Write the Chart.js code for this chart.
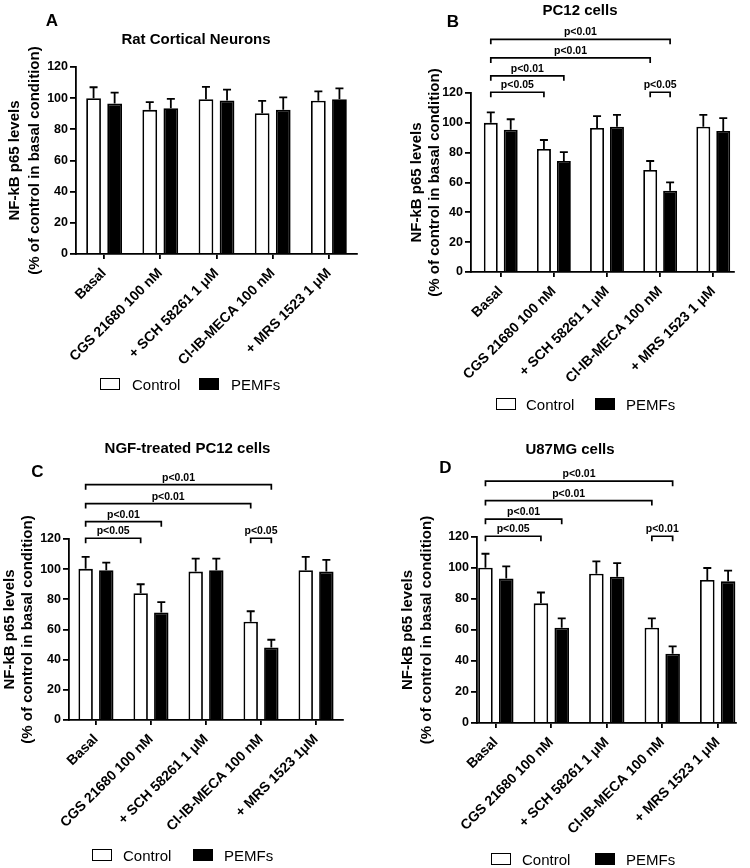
<!DOCTYPE html>
<html>
<head>
<meta charset="utf-8">
<script src="https://cdn.jsdelivr.net/npm/chart.js@4.4.1/dist/chart.umd.min.js"></script>
<style>
  body { margin: 0; background: #fff; }
  #page { position: relative; width: 750px; height: 868px; font-family: 'Liberation Sans', Arial, sans-serif; color: #000; }
  canvas { position: absolute; }
  .txt { position: absolute; white-space: nowrap; line-height: 1; transform: translate(-50%, -50%); }
  .bold { font-weight: bold; }
  .box { position: absolute; box-sizing: border-box; border: 1.6px solid #000; }
  .lg { position: absolute; white-space: nowrap; line-height: 1; transform: translateY(-50%); font-size: 15px; }
</style>
</head>
<body>
<div id="page">
  <canvas id="chartA" width="375" height="434" style="left:0;top:0"></canvas>
  <canvas id="chartB" width="375" height="434" style="left:375px;top:0"></canvas>
  <canvas id="chartC" width="375" height="434" style="left:0;top:434px"></canvas>
  <canvas id="chartD" width="375" height="434" style="left:375px;top:434px"></canvas>
</div>
<script>
// categories / series
const categories = ['Basal', 'CGS 21680 100 nM', '+ SCH 58261 1 \u03bcM', 'Cl-IB-MECA 100 nM', '+ MRS 1523 1 \u03bcM'];
const categoriesC = ['Basal', 'CGS 21680 100 nM', '+ SCH 58261 1 \u03bcM', 'Cl-IB-MECA 100 nM', '+ MRS 1523 1\u03bcM'];
const seriesNames = ['Control', 'PEMFs'];
const yTicks = [0, 20, 40, 60, 80, 100, 120];
const yTitle = ['NF-kB p65 levels', '(% of control in basal condition)'];

// A - Rat Cortical Neurons
const controlA = [100, 92.5, 99.3, 90.3, 98.4];
const semControlA = [7, 5, 8, 8, 6];
const pemfA = [96.5, 93.5, 98.5, 92.5, 99.3];
const semPemfA = [7, 6, 7, 8, 7];

// B - PC12 cells
const controlB = [100, 82.5, 96.5, 68.4, 97.4];
const semControlB = [7, 6, 8, 6, 8];
const pemfB = [95.4, 74.4, 97.4, 54.5, 94.5];
const semPemfB = [7, 6, 8, 5.6, 8.7];

// C - NGF-treated PC12 cells
const controlC = [100.2, 84, 98.4, 65.1, 99.3];
const semControlC = [8, 6, 8.6, 7, 8.8];
const pemfC = [99.3, 71.3, 99.3, 48.1, 98.4];
const semPemfC = [5, 6.8, 7.7, 5.1, 7.7];

// D - U87MG cells
const controlD = [100.2, 77.2, 96.3, 61.5, 92.3];
const semControlD = [9, 7, 8, 6, 7.7];
const pemfD = [93.3, 61.5, 94.4, 44.7, 91.4];
const semPemfD = [7.8, 6, 8.8, 4.8, 6.9];

// significance brackets: [dataset, category] -> [dataset, category]
const bracketFrom = [[0, 0], [0, 0], [0, 0], [0, 0], [0, 3]];
const bracketTo = [[0, 1], [1, 1], [0, 3], [1, 3], [1, 3]];
const bracketLevels = [120.5, 131.5, 143.5, 156, 120.5];
const bracketLabelsB = ['p<0.05', 'p<0.01', 'p<0.01', 'p<0.01', 'p<0.05'];
const bracketLabelsC = ['p<0.05', 'p<0.01', 'p<0.01', 'p<0.01', 'p<0.05'];
const bracketLabelsD = ['p<0.05', 'p<0.01', 'p<0.01', 'p<0.01', 'p<0.01'];

const FONT = "'Liberation Sans', Arial, sans-serif";
Chart.defaults.font.family = FONT;
Chart.defaults.color = '#000';

const errorBars = {
  id: 'errorBars',
  afterDatasetsDraw(chart) {
    const ctx = chart.ctx;
    const y = chart.scales.y;
    chart.data.datasets.forEach((ds, di) => {
      const meta = chart.getDatasetMeta(di);
      meta.data.forEach((bar, i) => {
        const top = y.getPixelForValue(ds.data[i] + ds.errors[i]);
        ctx.save();
        ctx.strokeStyle = '#000';
        ctx.lineWidth = 1.8;
        ctx.beginPath();
        ctx.moveTo(bar.x, bar.y);
        ctx.lineTo(bar.x, top);
        ctx.moveTo(bar.x - 4, top);
        ctx.lineTo(bar.x + 4, top);
        ctx.stroke();
        ctx.restore();
      });
    });
  }
};

const brackets = {
  id: 'brackets',
  afterDraw(chart, args, opts) {
    const ctx = chart.ctx;
    const y = chart.scales.y;
    (opts.labels || []).forEach((label, k) => {
      const a = bracketFrom[k], b = bracketTo[k];
      const x1 = chart.getDatasetMeta(a[0]).data[a[1]].x;
      const x2 = chart.getDatasetMeta(b[0]).data[b[1]].x;
      const yy = y.getPixelForValue(bracketLevels[k]);
      ctx.save();
      ctx.strokeStyle = '#000';
      ctx.lineWidth = 1.7;
      ctx.beginPath();
      ctx.moveTo(x1, yy + 5);
      ctx.lineTo(x1, yy);
      ctx.lineTo(x2, yy);
      ctx.lineTo(x2, yy + 5);
      ctx.stroke();
      ctx.fillStyle = '#000';
      ctx.font = 'bold 10.5px ' + FONT;
      ctx.textAlign = 'center';
      ctx.textBaseline = 'alphabetic';
      ctx.fillText(label, (x1 + x2) / 2, yy - 4);
      ctx.restore();
    });
  }
};

function makePanel(id, p) {
  const ctx = document.getElementById(id);
  const labels = p.labels;
  new Chart(ctx, {
    type: 'bar',
    data: {
      labels: labels.map((c, i) => i),
      datasets: [
        { label: seriesNames[0], data: p.control, errors: p.semControl, backgroundColor: '#fff', borderColor: '#000', borderWidth: 1.8 },
        { label: seriesNames[1], data: p.pemf, errors: p.semPemf, backgroundColor: '#000', borderColor: '#000', borderWidth: 1.8 }
      ]
    },
    options: {
      responsive: false,
      animation: false,
      categoryPercentage: 0.75,
      barPercentage: 0.7,
      layout: { padding: { left: 0, top: p.top, right: p.right, bottom: 0 } },
      plugins: {
        legend: { display: false },
        tooltip: { enabled: false },
        brackets: { labels: p.brackets || [] }
      },
      scales: {
        x: {
          type: 'linear',
          min: p.xMin,
          max: p.xMax,
          offset: false,
          afterBuildTicks: s => { s.ticks = labels.map((c, i) => ({ value: i })); },
          afterFit: s => { s.height = p.xHeight; },
          ticks: {
            autoSkip: false,
            minRotation: 45,
            maxRotation: 45,
            padding: 6,
            font: { size: 14, weight: 'bold' },
            callback: v => labels[v]
          },
          grid: { drawOnChartArea: false, offset: false, drawTicks: true, tickLength: 5, color: '#000', lineWidth: 1.8 },
          border: { display: true, color: '#000', width: 1.8 }
        },
        y: {
          min: 0,
          max: 120,
          afterBuildTicks: s => { s.ticks = yTicks.map(v => ({ value: v })); },
          afterFit: s => { s.width = p.yWidth; },
          ticks: { padding: 2, font: { size: 12.5, weight: 'bold' } },
          grid: { drawOnChartArea: false, drawTicks: true, tickLength: 6, color: '#000', lineWidth: 1.8 },
          border: { display: true, color: '#000', width: 1.8 },
          title: {
            display: true,
            text: yTitle,
            font: { size: 15, weight: 'bold', lineHeight: p.titleLH },
            padding: { top: p.titlePad, bottom: 0 }
          }
        }
      }
    },
    plugins: [errorBars, brackets]
  });
}

makePanel('chartA', {
  labels: categories, control: controlA, semControl: semControlA, pemf: pemfA, semPemf: semPemfA,
  top: 67, right: 375 - 357, xHeight: 434 - 254, yWidth: 76, xMin: -0.5, xMax: 4.5,
  titleLH: 1.3, titlePad: 5.2
});
makePanel('chartB', {
  labels: categories, control: controlB, semControl: semControlB, pemf: pemfB, semPemf: semPemfB,
  top: 93, right: 750 - 734, xHeight: 434 - 272, yWidth: 96, xMin: -0.56, xMax: 4.39,
  titleLH: 1.22, titlePad: 32.5, brackets: bracketLabelsB
});
makePanel('chartC', {
  labels: categoriesC, control: controlC, semControl: semControlC, pemf: pemfC, semPemf: semPemfC,
  top: 539 - 434, right: 375 - 343, xHeight: 868 - 720, yWidth: 69, xMin: -0.49, xMax: 4.49,
  titleLH: 1.22, titlePad: 0.9, brackets: bracketLabelsC
});
makePanel('chartD', {
  labels: categories, control: controlD, semControl: semControlD, pemf: pemfD, semPemf: semPemfD,
  top: 537 - 434, right: 750 - 736, xHeight: 868 - 723, yWidth: 102, xMin: -0.34, xMax: 4.33,
  titleLH: 1.22, titlePad: 24.2, brackets: bracketLabelsD
});

// titles, panel letters and legends
const page = document.getElementById('page');
function addText(text, x, y, size, bold) {
  const d = document.createElement('div');
  d.className = 'txt' + (bold ? ' bold' : '');
  d.style.left = x + 'px';
  d.style.top = y + 'px';
  d.style.fontSize = size + 'px';
  d.textContent = text;
  page.appendChild(d);
}
function addLegend(y, boxes, texts) {
  boxes.forEach((bx, i) => {
    const b = document.createElement('div');
    b.className = 'box';
    b.style.left = bx + 'px';
    b.style.top = (y - 6) + 'px';
    b.style.width = '20px';
    b.style.height = '12px';
    b.style.background = i === 0 ? '#fff' : '#000';
    page.appendChild(b);
    const t = document.createElement('div');
    t.className = 'lg';
    t.style.left = texts[i] + 'px';
    t.style.top = y + 'px';
    t.textContent = seriesNames[i];
    page.appendChild(t);
  });
}

addText('A', 52, 20, 17, true);
addText('B', 453, 20.5, 17, true);
addText('C', 37.5, 471, 17, true);
addText('D', 445.5, 467, 17, true);
addText('Rat Cortical Neurons', 196, 37.5, 15, true);
addText('PC12 cells', 580, 9, 15, true);
addText('NGF-treated PC12 cells', 187.5, 447, 15, true);
addText('U87MG cells', 570, 448, 15, true);

addLegend(384, [100, 199], [132, 231]);
addLegend(404, [496, 595], [526, 626]);
addLegend(855, [92, 193], [123, 224]);
addLegend(859, [491, 595], [522, 626]);
</script>
</body>
</html>
